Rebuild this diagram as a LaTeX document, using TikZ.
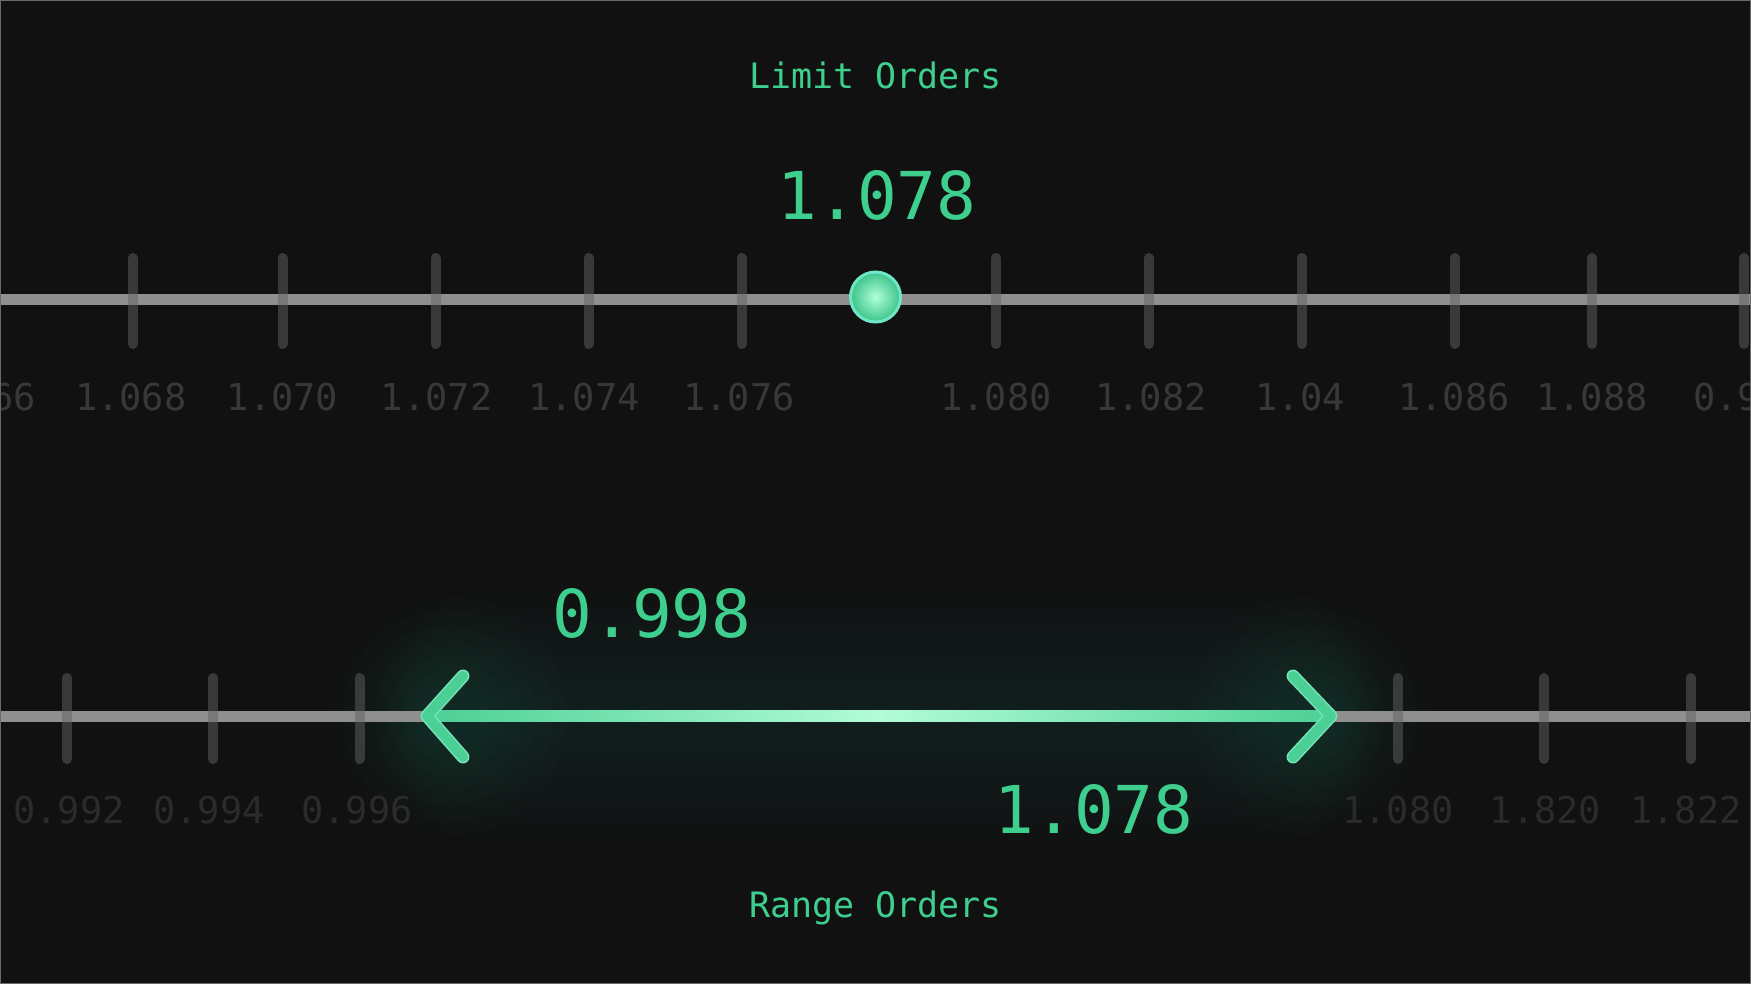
\documentclass[tikz,border=0pt]{standalone}
\usepackage{fontspec}
\newfontfamily\monof{DejaVu Sans Mono}
\definecolor{bg}{HTML}{111111}
\definecolor{brand}{HTML}{3ECF8E}
\definecolor{axisc}{HTML}{8F8F8F}
\definecolor{tickc}{HTML}{626262}
\definecolor{lbltop}{HTML}{383838}
\definecolor{lblbot}{HTML}{2B2B2B}
\definecolor{glowpale}{HTML}{8FD0B0}
\definecolor{arrowc}{HTML}{4CCF94}
\definecolor{arrowedge}{HTML}{74E3B8}
\definecolor{arrowlight}{HTML}{B2FCD8}
\definecolor{dotlight}{HTML}{B0FFD8}
\definecolor{dotdark}{HTML}{3CC48A}
\definecolor{dotring}{HTML}{70E6C8}
\definecolor{framec}{HTML}{6A6A6A}
\begin{document}
\begin{tikzpicture}[x=1pt,y=-1pt,
  title/.style={font=\monof\fontsize{35}{40}\selectfont, text=brand, anchor=base, inner sep=0},
  bignum/.style={font=\monof\fontsize{66}{70}\selectfont, text=brand, anchor=base, inner sep=0},
  tlbl/.style={font=\monof\fontsize{37}{40}\selectfont, text=lbltop, anchor=base, inner sep=0},
  blbl/.style={font=\monof\fontsize{37}{40}\selectfont, text=lblbot, anchor=base, inner sep=0},
  axisline/.style={draw=axisc, line width=11},
  tickmark/.style={draw=tickc, draw opacity=0.5, line width=10, line cap=round},
  headstroke/.style={line width=#1, line cap=round, line join=round},
  dotnode/.style={circle, minimum size=50, inner sep=0, draw=dotring, line width=3,
                  inner color=dotlight, outer color=dotdark}
]
\useasboundingbox (0,0) rectangle (1751,984);
\fill[bg] (0,0) rectangle (1751,984);
\begin{scope}
\clip (0,0) rectangle (1751,984);

% ---------- glow behind the range arrow ----------
\coordinate (L) at (427,716);
\coordinate (R) at (1331,716);
\foreach \r in {10,20,...,130}
  \fill[glowpale, opacity=0.008, rounded corners=\r pt]
    ([shift={(-0.4*\r,-\r)}]L) rectangle ([shift={(0.4*\r,\r)}]R);
\foreach \r in {15,30,...,120} {
  \fill[brand, opacity=0.011] ([xshift=20pt]L) circle[radius=\r pt];
  \fill[brand, opacity=0.011] ([xshift=-20pt]R) circle[radius=\r pt];
}

% ---------- top axis ----------
\coordinate (TA) at (0,300);
\coordinate (TB) at (1751,300);
\draw[axisline] (TA) -- (TB);
\foreach \x in {132.9,282.5,435.5,588.5,741.5,996,1149,1302,1455,1592,1744}
  \draw[tickmark] (\x,258) -- (\x,344);
\foreach \x/\t [count=\i] in {-20/1.066,130.7/1.068,282.5/1.070,436.6/1.072,584/1.074,739/1.076,996/1.080,1151/1.082,1300/1.04,1454/1.086,1592/1.088}
  \node[tlbl] (tl\i) at (\x,410) {\t};
\node[tlbl, anchor=base west] (tl12) at (1693,410) {0.99};

\node[dotnode] (pt) at (875.5,297) {};
\node[title] (limit) at (875.5,89) {Limit Orders};
\node[bignum] (price) at (877,220) {1.078};

% ---------- bottom axis ----------
\coordinate (BA) at (0,716);
\coordinate (BB) at (1751,716);
\draw[axisline] (BA) -- (L);
\draw[axisline] (R) -- (BB);
\foreach \x in {67,213.3,359.6,1398,1544,1690.7}
  \draw[tickmark] (\x,678) -- (\x,759);
\foreach \x/\t [count=\i] in {69/0.992,209/0.994,357/0.996,1398/1.080,1545.5/1.820,1686/1.822}
  \node[blbl] (bl\i) at (\x,823) {\t};

% range arrow shaft with gradient
\shade[left color=arrowc, right color=arrowc, middle color=arrowlight]
  ([yshift=-5.5pt]L) rectangle ([yshift=5.5pt]R);
% arrow heads
\draw[arrowedge, headstroke=13] ([shift={(36,-40)}]L) -- (L) -- ([shift={(36,41)}]L);
\draw[arrowc, headstroke=10] ([shift={(36,-40)}]L) -- (L) -- ([shift={(36,41)}]L);
\draw[arrowedge, headstroke=13] ([shift={(-38,-40)}]R) -- (R) -- ([shift={(-38,41)}]R);
\draw[arrowc, headstroke=10] ([shift={(-38,-40)}]R) -- (R) -- ([shift={(-38,41)}]R);

\node[bignum] (low) at (652,637) {0.998};
\node[bignum] (high) at (1094,833) {1.078};
\node[title] (range) at (875.5,917) {Range Orders};
\end{scope}
\draw[framec, line width=2] (0,0) rectangle (1751,984);
\end{tikzpicture}
\end{document}
